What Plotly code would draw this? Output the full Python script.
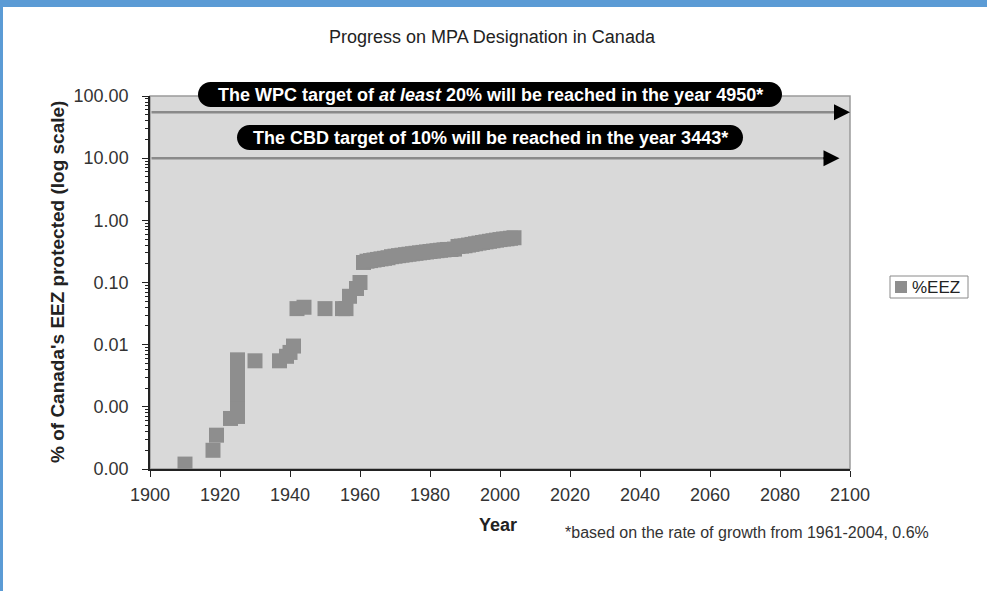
import math
import plotly.graph_objects as go

# ---------------- data ----------------
years = [1910, 1918, 1919, 1923, 1925, 1925, 1925, 1925, 1925, 1925, 1930,
         1937, 1939, 1940, 1941, 1942, 1944, 1950, 1955, 1956, 1957, 1959, 1960,
         1961, 1962, 1963, 1964, 1965, 1966, 1967, 1968, 1969, 1970,
         1971, 1972, 1973, 1974, 1975, 1976, 1977, 1978, 1979, 1980,
         1981, 1982, 1983, 1984, 1985, 1986, 1987, 1988, 1989, 1990,
         1991, 1992, 1993, 1994, 1995, 1996, 1997, 1998, 1999, 2000,
         2001, 2002, 2003, 2004]
pct_eez = [0.00012, 0.0002, 0.00035, 0.00065, 0.0007, 0.001, 0.0016, 0.0024, 0.0038, 0.0057, 0.0055,
           0.0055, 0.0065, 0.0075, 0.0095, 0.038, 0.04, 0.038, 0.038, 0.038, 0.06, 0.08, 0.1,
           0.21, 0.22, 0.225, 0.23, 0.235, 0.24, 0.245, 0.25, 0.26, 0.265,
           0.27, 0.275, 0.28, 0.285, 0.29, 0.295, 0.30, 0.305, 0.31, 0.315,
           0.32, 0.325, 0.33, 0.335, 0.34, 0.34, 0.345, 0.38, 0.385, 0.39,
           0.40, 0.41, 0.42, 0.43, 0.44, 0.45, 0.46, 0.47, 0.48, 0.49,
           0.50, 0.505, 0.515, 0.525]
series_name = "%EEZ"

x_ticks = list(range(1900, 2101, 20))
y_ticks = [0.0001, 0.001, 0.01, 0.1, 1, 10, 100]
y_tick_labels = ["0.00", "0.00", "0.01", "0.10", "1.00", "10.00", "100.00"]

wpc_level, wpc_end = 55, 2100
cbd_level, cbd_end = 10, 2097
wpc_text = "<b>The WPC target of <i>at least</i> 20% will be reached in the year 4950*</b>"
cbd_text = "<b>The CBD target of 10% will be reached in the year 3443*</b>"

FONT = "Liberation Sans, Arial, sans-serif"
MARKER_COLOR = "#8e8e8e"
W, H = 987, 591
L, R, T, B = 150, 137, 96, 122
PW, PH = W - L - R, H - T - B


def fx(px):
    return (px - L) / PW


def fy(py):
    return (H - B - py) / PH


def pill(x0, y0, x1, y1):
    r = (y1 - y0) / 2.0
    k = 0.5523 * r
    path = f"M {fx(x0 + r)},{fy(y0)} L {fx(x1 - r)},{fy(y0)} "
    path += f"C {fx(x1 - r + k)},{fy(y0)} {fx(x1)},{fy(y0 + r - k)} {fx(x1)},{fy(y0 + r)} "
    path += f"C {fx(x1)},{fy(y0 + r + k)} {fx(x1 - r + k)},{fy(y1)} {fx(x1 - r)},{fy(y1)} "
    path += f"L {fx(x0 + r)},{fy(y1)} "
    path += f"C {fx(x0 + r - k)},{fy(y1)} {fx(x0)},{fy(y1 - r + k)} {fx(x0)},{fy(y1 - r)} "
    path += f"C {fx(x0)},{fy(y1 - r - k)} {fx(x0 + r - k)},{fy(y0)} {fx(x0 + r)},{fy(y0)} Z"
    return path


fig = go.Figure()
fig.add_trace(go.Scatter(
    x=years, y=pct_eez, mode="markers", name=series_name, showlegend=False,
    marker=dict(symbol="square", size=15, color=MARKER_COLOR, line=dict(width=0)),
))

shapes = [
    # plot area border
    dict(type="rect", xref="paper", yref="paper", x0=0, x1=1, y0=0, y1=1,
         line=dict(color="#9a9a9a", width=1.5), layer="below"),
    # blue frame
    dict(type="rect", xref="paper", yref="paper", x0=fx(0), x1=fx(W), y0=fy(7), y1=fy(0),
         line=dict(width=0), fillcolor="#5b9bd5", layer="above"),
    dict(type="rect", xref="paper", yref="paper", x0=fx(0), x1=fx(3), y0=fy(H), y1=fy(0),
         line=dict(width=0), fillcolor="#5b9bd5", layer="above"),
    # pills
    dict(type="path", xref="paper", yref="paper", path=pill(198, 82, 782, 107),
         fillcolor="black", line=dict(width=0), layer="above"),
    dict(type="path", xref="paper", yref="paper", path=pill(237, 125, 743, 150),
         fillcolor="black", line=dict(width=0), layer="above"),
    # legend box and symbol
    dict(type="rect", xref="paper", yref="paper", x0=fx(890), x1=fx(968), y0=fy(298), y1=fy(276),
         line=dict(color="#8a8a8a", width=1), fillcolor="white", layer="above"),
    dict(type="rect", xref="paper", yref="paper", x0=fx(895), x1=fx(907), y0=fy(293), y1=fy(281),
         line=dict(width=0), fillcolor=MARKER_COLOR, layer="above"),
]

annotations = []
for lvl, end in [(wpc_level, wpc_end), (cbd_level, cbd_end)]:
    ly = math.log10(lvl)
    annotations.append(dict(x=end - 3, y=ly, ax=1900, ay=ly, xref="x", yref="y",
                            axref="x", ayref="y", text="", showarrow=True,
                            arrowhead=0, arrowwidth=2.5, arrowcolor="#8a8a8a"))
    annotations.append(dict(x=end, y=ly, ax=end - 5, ay=ly, xref="x", yref="y",
                            axref="x", ayref="y", text="", showarrow=True,
                            arrowhead=2, arrowsize=1.6, arrowwidth=2, arrowcolor="black"))

annotations += [
    dict(text=wpc_text, xref="paper", yref="paper", x=fx(490), y=fy(94.5),
         xanchor="center", yanchor="middle", showarrow=False,
         font=dict(family=FONT, size=18, color="white")),
    dict(text=cbd_text, xref="paper", yref="paper", x=fx(490), y=fy(137.5),
         xanchor="center", yanchor="middle", showarrow=False,
         font=dict(family=FONT, size=18, color="white")),
    dict(text="<b>% of Canada's EEZ protected (log scale)</b>", xref="paper", yref="paper",
         x=fx(57), y=fy(282), textangle=-90, xanchor="center", yanchor="middle",
         showarrow=False, font=dict(family=FONT, size=19, color="#222")),
    dict(text="<b>Year</b>", xref="paper", yref="paper", x=fx(498), y=fy(525),
         xanchor="center", yanchor="middle", showarrow=False,
         font=dict(family=FONT, size=18, color="#222")),
    dict(text="*based on the rate of growth from 1961-2004, 0.6%", xref="paper", yref="paper",
         x=fx(563), y=fy(532), xanchor="left", yanchor="middle", showarrow=False,
         font=dict(family=FONT, size=16, color="#333")),
    dict(text=series_name, xref="paper", yref="paper", x=fx(910), y=fy(287),
         xanchor="left", yanchor="middle", showarrow=False,
         font=dict(family=FONT, size=17, color="#222")),
]

fig.update_layout(
    width=W, height=H,
    margin=dict(l=L, r=R, t=T, b=B, pad=0, autoexpand=False),
    paper_bgcolor="white", plot_bgcolor="#d9d9d9",
    font=dict(family=FONT, size=18, color="#333"),
    title=dict(text="Progress on MPA Designation in Canada", xref="container", yref="container",
               x=492 / W, y=1 - 37 / H, xanchor="center", yanchor="middle",
               font=dict(family=FONT, size=18, color="#222")),
    showlegend=False,
    shapes=shapes, annotations=annotations,
    xaxis=dict(range=[1900, 2100], tickvals=x_ticks, ticks="outside", ticklen=6,
               tickcolor="#222", showline=True, linecolor="#222", linewidth=1.5,
               showgrid=False, zeroline=False, ticklabelstandoff=3,
               tickfont=dict(family=FONT, size=18, color="#333")),
    yaxis=dict(type="log", range=[-4, 2], tickvals=y_ticks, ticktext=y_tick_labels,
               ticks="outside", ticklen=6, tickcolor="#222", showline=True,
               linecolor="#222", linewidth=1.5, showgrid=False, zeroline=False,
               ticklabelstandoff=10,
               minor=dict(ticks="outside", ticklen=3, tickcolor="#222", dtick="D1",
                          showgrid=False),
               tickfont=dict(family=FONT, size=18, color="#333")),
)

fig.write_html("out.html")
